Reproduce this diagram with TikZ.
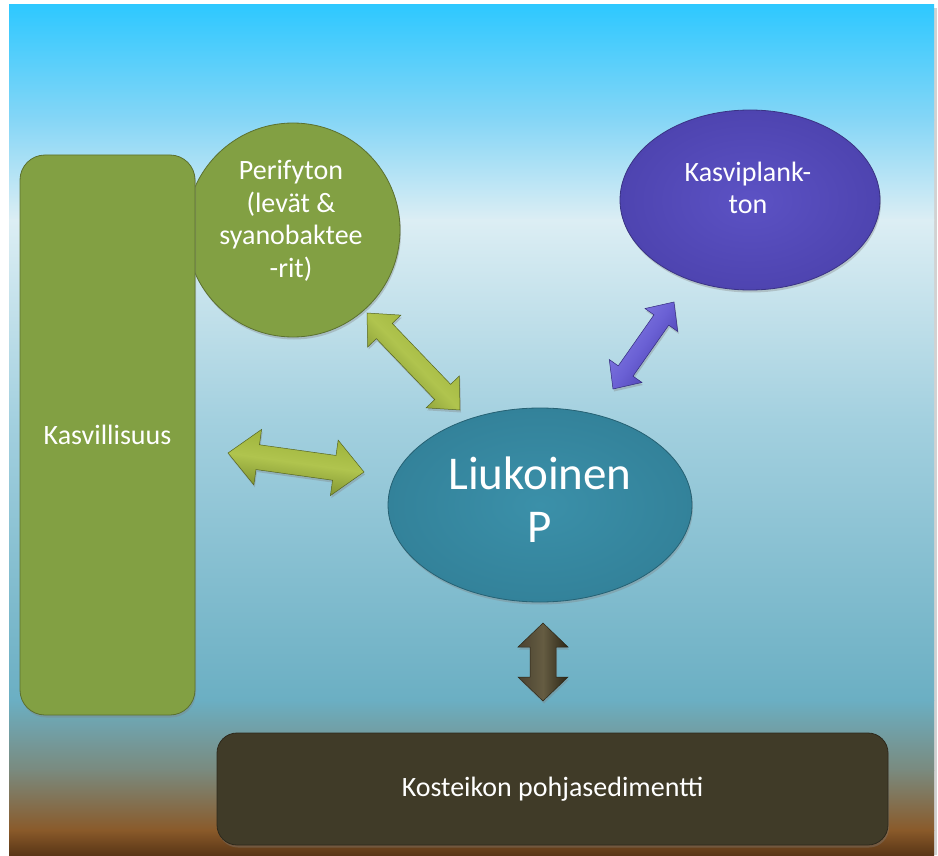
\documentclass[tikz,border=0pt]{standalone}
\usepackage{fontspec}
\setmainfont{Carlito}
\usetikzlibrary{calc,shapes.geometric,shadows}

\definecolor{bg1}{HTML}{2EC8FF}
\definecolor{bg2}{HTML}{86D6F6}
\definecolor{bg3}{HTML}{DCEEF4}
\definecolor{bg4}{HTML}{A3D0DF}
\definecolor{bg5}{HTML}{6BAFC3}
\definecolor{bg6}{HTML}{7A8A7E}
\definecolor{bg7}{HTML}{8A5A2A}
\definecolor{bg8}{HTML}{5A3616}
\definecolor{gfill}{HTML}{82A043}
\definecolor{pfill}{HTML}{5C52C4}
\definecolor{pfillo}{HTML}{4E44B0}
\definecolor{tfill}{HTML}{3B90A9}
\definecolor{tfillo}{HTML}{33829A}
\definecolor{sfill}{HTML}{403B28}
\definecolor{gaL}{HTML}{B0C44E}
\definecolor{gaT}{HTML}{98AE36}
\definecolor{gaD}{HTML}{72862A}
\definecolor{paL}{HTML}{8880E4}
\definecolor{paT}{HTML}{6A60D4}
\definecolor{paD}{HTML}{4438A6}
\definecolor{baL}{HTML}{655C42}
\definecolor{baT}{HTML}{4A4230}
\definecolor{baD}{HTML}{2C2616}

\newcommand\blockarrow[6]{%
  \coordinate (ba1) at ($(#1)!#5!(#2)$);
  \coordinate (ba2) at ($(#2)!#5!(#1)$);
  \path[#6] (#1) -- ($(ba1)!#4!90:(#2)$) -- ($(ba1)!#3!90:(#2)$)
     -- ($(ba2)!#3!-90:(#1)$) -- ($(ba2)!#4!-90:(#1)$) -- (#2)
     -- ($(ba2)!#4!90:(#1)$) -- ($(ba2)!#3!90:(#1)$)
     -- ($(ba1)!#3!-90:(#2)$) -- ($(ba1)!#4!-90:(#2)$) -- cycle;
}

\tikzset{
  lbl/.style={text=white, font=\fontsize{28}{32.5}\selectfont, align=center, inner sep=0pt},
  shad/.style={drop shadow={opacity=0.35, shadow xshift=1pt, shadow yshift=-2.5pt}},
  greenshape/.style={shad, fill=gfill, draw=gfill!70!black, line width=0.8pt},
  greenarrow/.style={shad, top color=gaT, bottom color=gaD, middle color=gaL, draw=gaD!75!black, line width=0.5pt},
  purplearrow/.style={shad, top color=paL, bottom color=paD, middle color=paT, draw=paD!75!black, line width=0.5pt},
  brownarrow/.style={shad, top color=baT, bottom color=baD, middle color=baL, draw=baD, line width=0.5pt},
}

\begin{document}
\begin{tikzpicture}[x=1pt, y=-1pt]
\useasboundingbox (0,0) rectangle (938,856);
\fill[white] (0,0) rectangle (938,856);
% background
\fill[black!35, opacity=0.5] (934,8) rectangle (937,855);
\shade[top color=bg1, bottom color=bg2] (9,5) rectangle (934,120.6);
\shade[top color=bg2, bottom color=bg3] (9,120) rectangle (934,220.6);
\shade[top color=bg3, bottom color=bg4] (9,220) rectangle (934,420.6);
\shade[top color=bg4, bottom color=bg5] (9,420) rectangle (934,700.6);
\shade[top color=bg5, bottom color=bg6] (9,700) rectangle (934,770.6);
\shade[top color=bg6, bottom color=bg7] (9,770) rectangle (934,830.6);
\shade[top color=bg7, bottom color=bg8] (9,830) rectangle (934,855);

% nodes
\node[greenshape, circle, minimum size=214pt] (peri) at (293,230) {};
\node[lbl] (peritxt) at (291,221) {Perifyton\\(levät \&\\syanobaktee\\-rit)};
\node[greenshape, rectangle, rounded corners=25pt, minimum width=175pt, minimum height=560pt, lbl]
  (kasv) at (107.5,435) {Kasvillisuus};
\node[shad, ellipse, inner color=pfill, outer color=pfillo, draw=pfillo!75!black, line width=0.8pt,
  minimum width=260pt, minimum height=180pt] (kplank) at (750,200) {};
\node[lbl] (kplanktxt) at (748,188) {Kasviplank-\\ton};
\node[shad, ellipse, inner color=tfill, outer color=tfillo, draw=tfillo!75!black, line width=0.8pt,
  minimum width=304pt, minimum height=194pt] (liuk) at (540,505) {};
\node[lbl, font=\fontsize{47}{53}\selectfont] (liuktxt) at (540,500) {Liukoinen\\P};
\node[shad, rectangle, rounded corners=20pt, fill=sfill, draw=sfill!70!black, line width=0.8pt,
  minimum width=671pt, minimum height=112pt, lbl] (sed) at (552.5,789) {Kosteikon pohjasedimentti};

% connector end points
\coordinate (a1s) at (367,313); \coordinate (a1e) at (460,410);
\coordinate (a2s) at (613,389); \coordinate (a2e) at (674,302);
\coordinate (a3s) at (228,453); \coordinate (a3e) at (364,472);
\coordinate (a4s) at (543,623); \coordinate (a4e) at (543,701);

\blockarrow{a1s}{a1e}{11pt}{23pt}{25pt}{greenarrow, shading angle=-46}
\blockarrow{a2s}{a2e}{9pt}{20pt}{22pt}{purplearrow, shading angle=55}
\blockarrow{a3s}{a3e}{12.5pt}{28pt}{30pt}{greenarrow, shading angle=-8}
\blockarrow{a4s}{a4e}{13pt}{25pt}{24pt}{brownarrow, shading angle=90}
\end{tikzpicture}
\end{document}
